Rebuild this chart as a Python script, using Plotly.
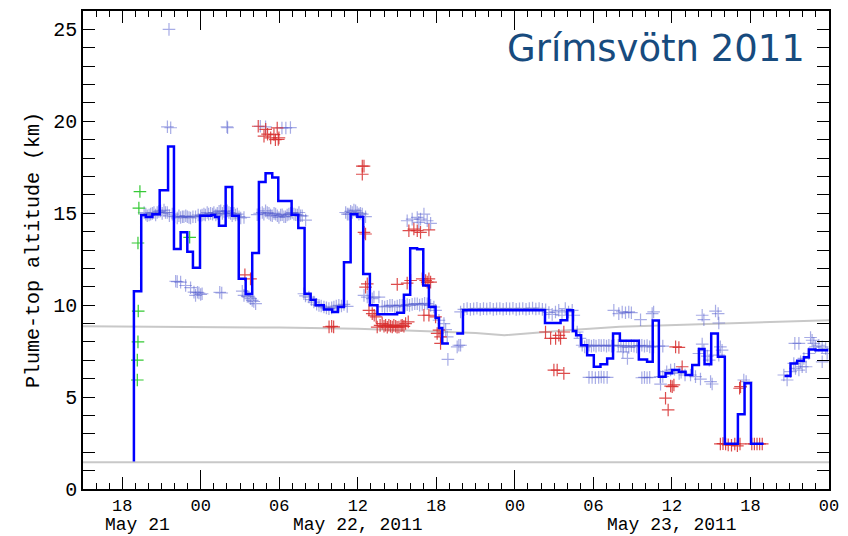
import pandas as pd
import plotly.graph_objects as go

# Times are hours after 2011-05-21 00:00 UTC; altitudes in km.
BASE = pd.Timestamp("2011-05-21 00:00")

# Plume-top step estimate (None breaks the line)
step_h = [18.89, 18.89, 19.45, 19.8, 20.3, 20.86, 21.5, 21.95, 22.46, 22.97, 23.4, 23.94,
          24.8, 25.1, 25.39, 25.9, 26.4, 26.9, 27.43, 27.93, 28.44, 28.95, 29.46, 29.92,
          30.94, 31.45, 31.93, 32.39, 32.77, 33.4, 34.04, 34.48, 34.94, 35.45, 35.96, 36.41,
          36.92, 37.5, 39.0, 39.52, 40.0, 40.53, 41.0, 41.43, 41.94, 42.2, 42.45, 42.96,
          42.97, 43.52, 44.03, 50.3, 51.49, 52.0, 52.43, 52.68, 53.06, 53.52, 54.03, 54.54,
          55.05, 55.5, 56.02, 57.47, 58.1, 58.53, 59.0, 59.51, 60.02, 60.53, 61.04, 61.55,
          62.06, 62.49, 63.0, 63.51, 64.04, 65.04, 65.55, 66.04, 67.0, 67.01, 68.6, 69.06,
          69.57, 70.08, 70.46, 70.97, 71.95]
step_km = [1.5, 10.76, 14.9, 14.8, 14.95, 16.25, 18.63, 13.06, 13.96, 12.91, 12.03, 14.86,
           14.9, 14.8, 14.32, 16.43, 14.86, 11.43, 10.6, 12.84, 16.7, 17.17, 16.94, 15.67,
           14.92, 14.2, 10.62, 10.3, 9.99, 9.77, 9.63, 9.9, 12.33, 14.95, 14.81, 11.7,
           10.0, 9.5, 9.59, 10.57, 13.09, 13.04, 11.07, 9.9, 9.3, 8.76, 7.92, 7.92,
           None, 8.46, 9.72, 9.03, 9.18, 9.72, 8.6, 8.36, 7.82, 7.28, 6.65, 6.78,
           7.1, 8.46, 8.06, 7.05, 6.92, 9.16, 6.11, 6.29, 6.47, 6.38, 6.2, 6.74,
           7.61, 6.78, 8.46, 7.19, 2.46, 4.07, 5.75, 2.46, 2.46, None, 6.15, 6.83,
           6.97, 7.16, 7.59, 7.55, 7.55]

# Individual retrievals
blue_h = [21.57, 21.45, 21.7, 26.0, 26.05, 28.55, 28.95, 30.2, 30.5, 30.85,
          19.67, 19.8, 19.91, 20.05, 20.17, 20.3, 20.42, 20.55, 20.67, 20.8, 20.93, 21.05,
          21.19, 21.3, 21.44, 21.6, 21.82, 22.0, 22.2, 22.33, 22.46, 22.6, 22.71, 22.85,
          22.97, 23.1, 23.22, 23.4, 23.6, 23.8, 23.99, 24.1, 24.24, 24.35, 24.49, 24.6,
          24.75, 24.9, 25.0, 25.15, 25.26, 25.4, 25.52, 25.65, 25.77, 25.9, 26.02, 26.15,
          26.28, 26.4, 26.53, 26.65, 26.79, 26.92, 27.05, 27.3,
          22.08, 22.2, 22.46, 22.84, 23.22, 23.48, 23.6, 23.75, 23.86, 23.99, 24.1, 25.45, 25.6,
          27.17, 27.3, 27.55, 27.68, 27.81, 27.93, 28.05, 28.19,
          28.31, 28.5, 28.7, 28.82, 28.95, 29.08, 29.21, 29.33, 29.46, 29.6, 29.72, 29.85,
          29.97, 30.1, 30.22, 30.35, 30.48, 30.6, 30.73, 30.86, 30.99, 31.12, 31.25, 31.38,
          31.5, 31.62, 31.75, 32.01,
          31.88, 32.0, 32.26, 32.45, 32.64, 32.85, 33.03, 33.2, 33.41, 33.6, 33.79, 34.0,
          34.17, 34.35, 34.55, 34.75, 34.94, 35.19,
          35.07, 35.2, 35.32, 35.45, 35.57, 35.7, 35.83, 35.95, 36.08, 36.2, 36.34, 36.59,
          36.47, 36.72, 37.1,
          37.23, 37.61, 37.86, 38.05, 38.25, 38.45, 38.63, 38.82, 39.01, 39.2, 39.39, 39.6,
          39.77, 39.95, 40.15, 40.35, 40.54, 40.72, 40.92, 41.1, 41.3, 41.56, 41.81,
          39.77, 40.15, 40.54, 40.66, 40.79, 41.05, 41.3, 41.56,
          41.94, 42.2, 42.58, 42.71, 42.83, 42.88, 43.59, 43.72, 43.85, 43.85,
          44.1, 44.35, 44.6, 44.85, 45.1, 45.35, 45.6, 45.85, 46.1, 46.35, 46.6, 46.85,
          47.1, 47.35, 47.6, 47.85, 48.1, 48.35, 48.6, 48.85, 49.1, 49.35, 49.6, 49.85,
          50.1, 50.35, 50.6, 50.85, 51.1, 51.35, 51.6, 51.85, 52.1, 52.38, 52.5,
          52.76, 52.97, 53.14, 53.33, 53.5, 53.66, 53.85, 54.03, 54.2, 54.42, 54.6, 54.8,
          55.0, 55.18, 55.38, 55.56,
          53.66, 53.9, 54.15, 54.4, 54.6, 54.8, 55.05,
          55.56, 55.94, 56.2, 56.45, 56.7, 56.9, 57.6, 58.49, 58.6,
          55.9, 56.1, 56.3, 56.5, 56.7, 56.9, 56.25, 56.6, 57.1, 57.3, 57.5, 57.7, 57.9,
          58.1, 58.3, 58.6, 59.0, 59.3,
          57.7, 57.9, 58.1, 58.3,
          59.13, 59.1, 59.3, 59.6, 59.9, 60.2, 60.55, 60.7, 61.0, 61.42, 61.8, 62.18,
          62.06, 62.31, 62.44, 62.95, 63.07, 62.7, 62.85, 63.58, 63.83, 63.7,
          62.31, 62.44, 63.33, 63.53, 63.58,
          65.49, 65.67,
          68.55, 68.8, 69.06, 69.31, 69.44, 69.7, 69.83, 70.08, 69.95, 70.25, 70.46, 70.59,
          70.71, 70.84, 70.97, 71.22, 71.48, 71.74, 71.86, 69.7, 69.39, 71.48]
blue_km = [25.0, 19.7, 19.65, 19.7, 19.65, 19.73, 19.7, 19.64, 19.64, 19.66,
           15.04, 14.95, 14.86, 14.9, 14.95, 14.99, 15.04, 14.9, 15.04, 15.1, 15.13, 14.99,
           15.17, 15.04, 15.04, 14.86, 14.95, 14.81, 14.74, 14.86, 14.77, 14.81, 14.81, 14.86,
           14.81, 14.77, 14.74, 14.81, 14.81, 14.9, 14.86, 14.9, 14.95, 14.9, 15.04, 14.95,
           14.99, 14.95, 15.04, 14.9, 14.99, 15.1, 15.13, 14.99, 15.1, 14.95, 15.13, 15.04,
           14.99, 14.86, 14.99, 14.9, 14.95, 14.81, 14.74, 14.77,
           11.3, 11.28, 11.25, 11.07, 10.95, 10.71, 10.53, 10.7, 10.66, 10.58, 10.62, 10.7, 10.66,
           10.76, 10.53, 10.48, 10.44, 10.35, 10.26, 10.2, 10.08,
           14.92, 15.0, 15.04, 14.95, 15.13, 15.04, 14.99, 14.9, 14.86, 14.99, 14.95, 14.86,
           14.77, 14.9, 14.92, 14.81, 14.81, 14.9, 14.95, 14.99, 15.04, 14.95, 14.92, 14.9,
           15.04, 14.86, 14.86, 14.63,
           10.62, 10.5, 10.44, 10.3, 10.17, 10.05, 9.99, 9.95, 9.9, 9.85, 9.81, 9.85,
           9.9, 9.95, 9.99, 9.95, 10.04, 9.93,
           15.04, 14.95, 14.95, 15.1, 15.04, 15.17, 15.13, 15.04, 14.95, 15.0, 14.95, 14.81,
           10.53, 10.44, 10.35,
           10.44, 10.44, 9.94, 9.9, 9.94, 9.99, 9.99, 9.9, 9.95, 9.99, 9.99, 9.94,
           10.03, 9.99, 10.04, 10.08, 10.08, 10.0, 10.04, 10.1, 10.08, 9.99, 9.9,
           14.59, 14.68, 14.77, 14.5, 14.68, 14.95, 14.59, 14.45,
           9.72, 9.18, 9.0, 8.67, 8.27, 7.05, 7.73, 7.82, 7.82, 9.63,
           9.77, 9.81, 9.77, 9.8, 9.83, 9.77, 9.81, 9.79, 9.83, 9.77, 9.8, 9.82,
           9.78, 9.81, 9.8, 9.83, 9.77, 9.8, 9.82, 9.78, 9.81, 9.84, 9.79, 9.82,
           9.77, 9.75, 9.6, 9.5, 9.63, 9.72, 9.45, 9.81, 9.63, 9.72, 9.45,
           8.54, 8.19, 7.82, 7.73, 7.82, 7.82, 7.77, 7.82, 7.77, 7.82, 7.8, 7.82,
           7.77, 7.82, 7.77, 7.82,
           6.07, 6.07, 6.05, 6.07, 6.09, 6.07, 6.07,
           9.72, 9.54, 9.63, 9.59, 9.63, 9.59, 9.21, 9.54, 9.63,
           7.82, 7.8, 7.73, 7.77, 7.7, 7.8, 7.46, 7.1, 7.77, 7.73, 7.8, 7.82, 7.77,
           7.8, 7.73, 7.73, 7.77, 7.77,
           6.05, 6.07, 6.05, 6.07,
           5.7, 6.1, 6.12, 6.38, 6.47, 6.51, 6.29, 6.35, 6.2, 6.2, 6.11, 5.98,
           7.37, 7.88, 7.52, 5.84, 5.71, 7.23, 7.01, 7.28, 7.55, 7.73,
           9.45, 9.21, 9.68, 9.54, 9.03,
           5.93, 5.84,
           6.2, 5.93, 6.38, 6.83, 6.56, 6.47, 6.92, 7.1, 6.65, 6.65, 7.37, 8.24,
           8.09, 7.92, 7.73, 7.82, 7.73, 7.64, 7.37, 7.92, 7.92, 6.92]

red_h = [27.37, 27.8,
         28.39, 28.83, 28.96, 29.1, 29.34, 29.59, 29.7, 29.84, 29.92, 29.97,
         36.34, 36.47, 36.34, 36.47, 36.59, 36.72, 36.59,
         36.85, 37.1, 37.25, 37.4, 33.8, 34.0, 34.15,
         37.48, 37.7, 37.86, 38.0, 38.12, 38.25, 38.37, 38.5, 38.63, 38.75, 38.89, 39.0,
         39.14, 39.3, 39.39, 39.52, 39.65, 39.85,
         39.01, 39.77, 40.03, 40.92, 41.18, 41.3, 41.43, 41.56,
         39.9, 40.28, 40.54, 40.79, 41.43,
         41.05, 41.43, 41.94, 42.06, 42.2, 42.32, 42.32,
         50.34, 50.73, 51.11, 51.36, 51.49, 51.74, 50.98, 51.23, 51.74,
         59.51, 59.71, 59.9, 60.02, 60.15, 60.28, 60.53, 60.78,
         63.7, 63.9, 64.1, 64.3, 64.55, 64.8, 65.0, 65.2, 66.1, 66.3, 66.5, 66.7, 66.9,
         65.17, 65.24]
red_km = [11.65, 11.43,
          19.73, 19.19, 19.56, 19.3, 19.1, 19.28, 19.0, 19.64, 19.01, 19.1,
          17.56, 17.56, 17.12, 13.96, 13.87, 11.16, 10.98,
          9.72, 9.54, 9.45, 9.36, 8.82, 8.85, 8.82,
          8.81, 8.9, 9.0, 8.85, 8.91, 8.8, 8.91, 8.85, 8.81, 8.9, 8.85, 8.8,
          8.81, 8.88, 8.91, 8.85, 9.0, 9.09,
          11.13, 11.2, 11.34, 11.43, 11.34, 11.25, 11.43, 11.25,
          14.05, 14.14, 14.05, 13.96, 14.09,
          9.45, 9.45, 9.36, 8.46, 8.64, 8.27, 7.92,
          8.54, 8.19, 8.19, 8.36, 8.19, 8.54, 6.47, 6.47, 6.29,
          4.94, 4.3, 5.6, 5.57, 5.66, 7.73, 7.7, 6.65,
          2.45, 2.47, 2.45, 2.4, 2.38, 2.45, 2.35, 2.45, 2.45, 2.45, 2.45, 2.45, 2.45,
          5.48, 5.57]

green_h = [19.35, 19.27, 19.2, 19.22, 19.2, 19.15, 19.15, 23.15]
green_km = [16.18, 15.28, 13.38, 9.68, 8.0, 7.01, 5.93, 13.69]

# Reference levels
trop_h = [15, 24, 30, 36, 42, 45, 47.2, 50, 52, 56, 60, 66, 72]
trop_km = [8.85, 8.83, 8.78, 8.71, 8.58, 8.48, 8.36, 8.52, 8.64, 8.82, 8.92, 9.05, 9.18]
ground_h = [15, 72]
ground_km = [1.45, 1.45]

# Axis labelling
tick_hours = [18, 24, 30, 36, 42, 48, 54, 60, 66, 72]
day_hours = [24, 48, 72]
date_label_hours = [19.15, 36, 60]
date_labels = ["May 21", "May 22, 2011", "May 23, 2011"]


def to_time(hours):
    return BASE + pd.to_timedelta(hours, unit="h")


MONO = "Liberation Mono"
fig = go.Figure()

fig.add_trace(go.Scatter(x=to_time(trop_h), y=trop_km, mode="lines",
                         line=dict(color="#c8c8c8", width=2), hoverinfo="skip"))
fig.add_trace(go.Scatter(x=to_time(ground_h), y=ground_km, mode="lines",
                         line=dict(color="#c8c8c8", width=2), hoverinfo="skip"))

cross = dict(symbol="cross-thin", size=9)
fig.add_trace(go.Scatter(x=to_time(blue_h), y=blue_km, mode="markers",
                         marker=dict(**cross, line=dict(color="rgba(80,90,205,0.5)", width=1.2))))
fig.add_trace(go.Scatter(x=to_time(red_h), y=red_km, mode="markers",
                         marker=dict(**cross, line=dict(color="rgba(215,45,45,0.85)", width=1.2))))
fig.add_trace(go.Scatter(x=to_time(green_h), y=green_km, mode="markers",
                         marker=dict(**cross, line=dict(color="#35c935", width=1.2))))

fig.add_trace(go.Scatter(x=to_time(step_h), y=step_km, mode="lines",
                         line=dict(color="#0000ff", width=2.5, shape="hv"),
                         connectgaps=False))

# empty trace carrying the day-boundary tick axis
fig.add_trace(go.Scatter(x=[], y=[], xaxis="x2", yaxis="y", hoverinfo="skip"))

x_range = [to_time(15), to_time(72)]

fig.update_layout(
    width=848, height=536,
    margin=dict(l=83, r=19, t=9, b=47),
    paper_bgcolor="white", plot_bgcolor="white",
    showlegend=False,
    xaxis=dict(
        type="date", range=x_range,
        tickvals=list(to_time(tick_hours)), tickformat="%H",
        ticks="inside", ticklen=12, tickwidth=1.3, tickcolor="black",
        showline=True, linecolor="black", linewidth=1.6, mirror="allticks",
        showgrid=False, zeroline=False,
        minor=dict(ticks="inside", ticklen=6, tickwidth=1.1, tickcolor="black",
                   dtick=3600000, tick0=to_time(0), showgrid=False),
        tickfont=dict(family=MONO, size=17, color="black"),
    ),
    xaxis2=dict(
        type="date", range=x_range, overlaying="x", anchor="y", side="bottom",
        tickvals=list(to_time(day_hours)), showticklabels=False,
        ticks="inside", ticklen=19, tickwidth=1.3, tickcolor="black",
        mirror="allticks", showline=False, showgrid=False, zeroline=False,
    ),
    yaxis=dict(
        range=[0, 26], dtick=5, tick0=0,
        ticks="inside", ticklen=12, tickwidth=1.3, tickcolor="black",
        showline=True, linecolor="black", linewidth=1.6, mirror="allticks",
        showgrid=False, zeroline=False,
        minor=dict(ticks="inside", ticklen=6, tickwidth=1.1, tickcolor="black",
                   dtick=1, showgrid=False),
        tickfont=dict(family=MONO, size=20, color="black"),
        title=dict(text="Plume-top altitude (km)", standoff=8,
                   font=dict(family=MONO, size=20, color="black")),
    ),
)

# date line beneath the hour labels
for h, label in zip(date_label_hours, date_labels):
    fig.add_annotation(x=to_time(h), y=0, xref="x", yref="paper",
                       yanchor="bottom", yshift=-46.5, borderpad=0, showarrow=False,
                       text=label, font=dict(family=MONO, size=18, color="black"))

fig.add_annotation(x=1, y=1, xref="paper", yref="paper", xanchor="right", yanchor="top",
                   xshift=-22, yshift=-14, showarrow=False, text="Grímsvötn 2011",
                   font=dict(family="DejaVu Sans", size=37, color="#174b7e"))

fig.write_html("out.html")
